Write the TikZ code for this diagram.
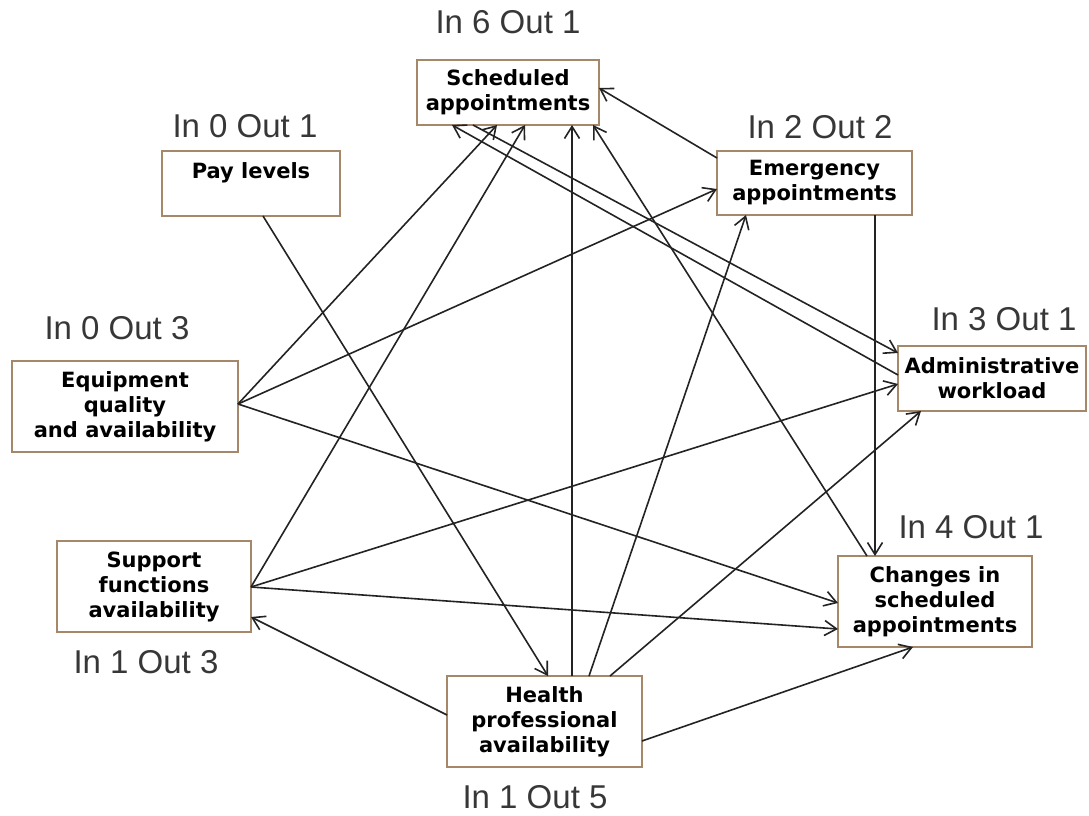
\documentclass[tikz,border=0pt]{standalone}
\usepackage{fontspec}
\setmainfont{Liberation Sans}
\newfontfamily\boxfont{DejaVu Sans}
\usetikzlibrary{arrows.meta,calc}
\definecolor{boxbrown}{RGB}{165,135,105}
\definecolor{linkgray}{RGB}{35,35,35}
\definecolor{tallygray}{RGB}{55,55,55}
\begin{document}
\begin{tikzpicture}[x=1pt,y=-1pt,
  box/.style={draw=boxbrown, line width=1.5pt, fill=white, inner sep=0pt,
    outer sep=0pt, align=center,
    font=\boxfont\bfseries\fontsize{21}{25}\selectfont},
  tally/.style={font=\fontsize{33}{38}\selectfont, text=tallygray, inner sep=0pt},
  link/.style={draw=linkgray, line width=1.6pt,
    -{Straight Barb[length=12pt,width=15pt]}}]
\useasboundingbox (0,0) rectangle (1089,816);

% factor boxes
\node[box, minimum width=182, minimum height=65] (sched) at (508,92.5)
  {Scheduled\\appointments};
\node[box, minimum width=178, minimum height=65] (pay) at (251,183.5)
  {Pay levels\\\mbox{}};
\node[box, minimum width=195, minimum height=64] (emerg) at (814.5,183)
  {Emergency\\appointments};
\node[box, minimum width=188, minimum height=65] (admin) at (992,378.5)
  {Administrative\\workload};
\node[box, minimum width=226, minimum height=91] (equip) at (125,406.5)
  {Equipment\\quality\\and availability};
\node[box, minimum width=194, minimum height=91] (support) at (154,586.5)
  {Support\\functions\\availability};
\node[box, minimum width=194, minimum height=91] (changes) at (935,601.5)
  {Changes in\\scheduled\\appointments};
\node[box, minimum width=195, minimum height=91] (health) at (544.5,721.5)
  {Health\\professional\\availability};

% in/out tallies
\node[tally] (tsched) at (508,22) {In 6 Out 1};
\node[tally] (tpay) at (245,126) {In 0 Out 1};
\node[tally] (temerg) at (820,127) {In 2 Out 2};
\node[tally] (tequip) at (117,328) {In 0 Out 3};
\node[tally] (tadmin) at (1004,319) {In 3 Out 1};
\node[tally] (tchanges) at (971,527) {In 4 Out 1};
\node[tally] (tsupport) at (146,662) {In 1 Out 3};
\node[tally] (thealth) at (535,797) {In 1 Out 5};

% influences
\draw[link] ($(pay.south west)+(101,0)$) -- ($(health.north west)+(101,0)$);

\draw[link] ($(equip.north east)+(0,43)$) -- ($(sched.south west)+(80,0)$);
\draw[link] ($(equip.north east)+(0,43)$) -- ($(emerg.north west)+(0,38)$);
\draw[link] ($(equip.north east)+(0,43)$) -- ($(changes.north west)+(0,47)$);

\draw[link] ($(support.north east)+(0,46)$) -- ($(sched.south west)+(108,0)$);
\draw[link] ($(support.north east)+(0,46)$) -- ($(admin.north west)+(0,38)$);
\draw[link] ($(support.north east)+(0,46)$) -- ($(changes.north west)+(0,73)$);

\draw[link] ($(health.north west)+(0,39)$) -- ($(support.north east)+(0,76)$);
\draw[link] ($(health.north west)+(125,0)$) -- ($(sched.south west)+(155,0)$);
\draw[link] ($(health.north west)+(142,0)$) -- ($(emerg.south west)+(29,0)$);
\draw[link] ($(health.north west)+(163,0)$) -- ($(admin.south west)+(23,0)$);
\draw[link] ($(health.north east)+(0,65)$) -- ($(changes.south west)+(75,0)$);

\draw[link] ($(emerg.north west)+(0,7)$) -- ($(sched.north east)+(0,28)$);
\draw[link] ($(emerg.south west)+(158,0)$) -- ($(changes.north west)+(37,0)$);

\draw[link] ($(sched.south west)+(56,0)$) -- ($(admin.north west)+(0,7)$);
\draw[link] ($(admin.north west)+(0,29)$) -- ($(sched.south west)+(35,0)$);

\draw[link] ($(changes.north west)+(29,0)$) -- ($(sched.south west)+(176,0)$);
\end{tikzpicture}
\end{document}
